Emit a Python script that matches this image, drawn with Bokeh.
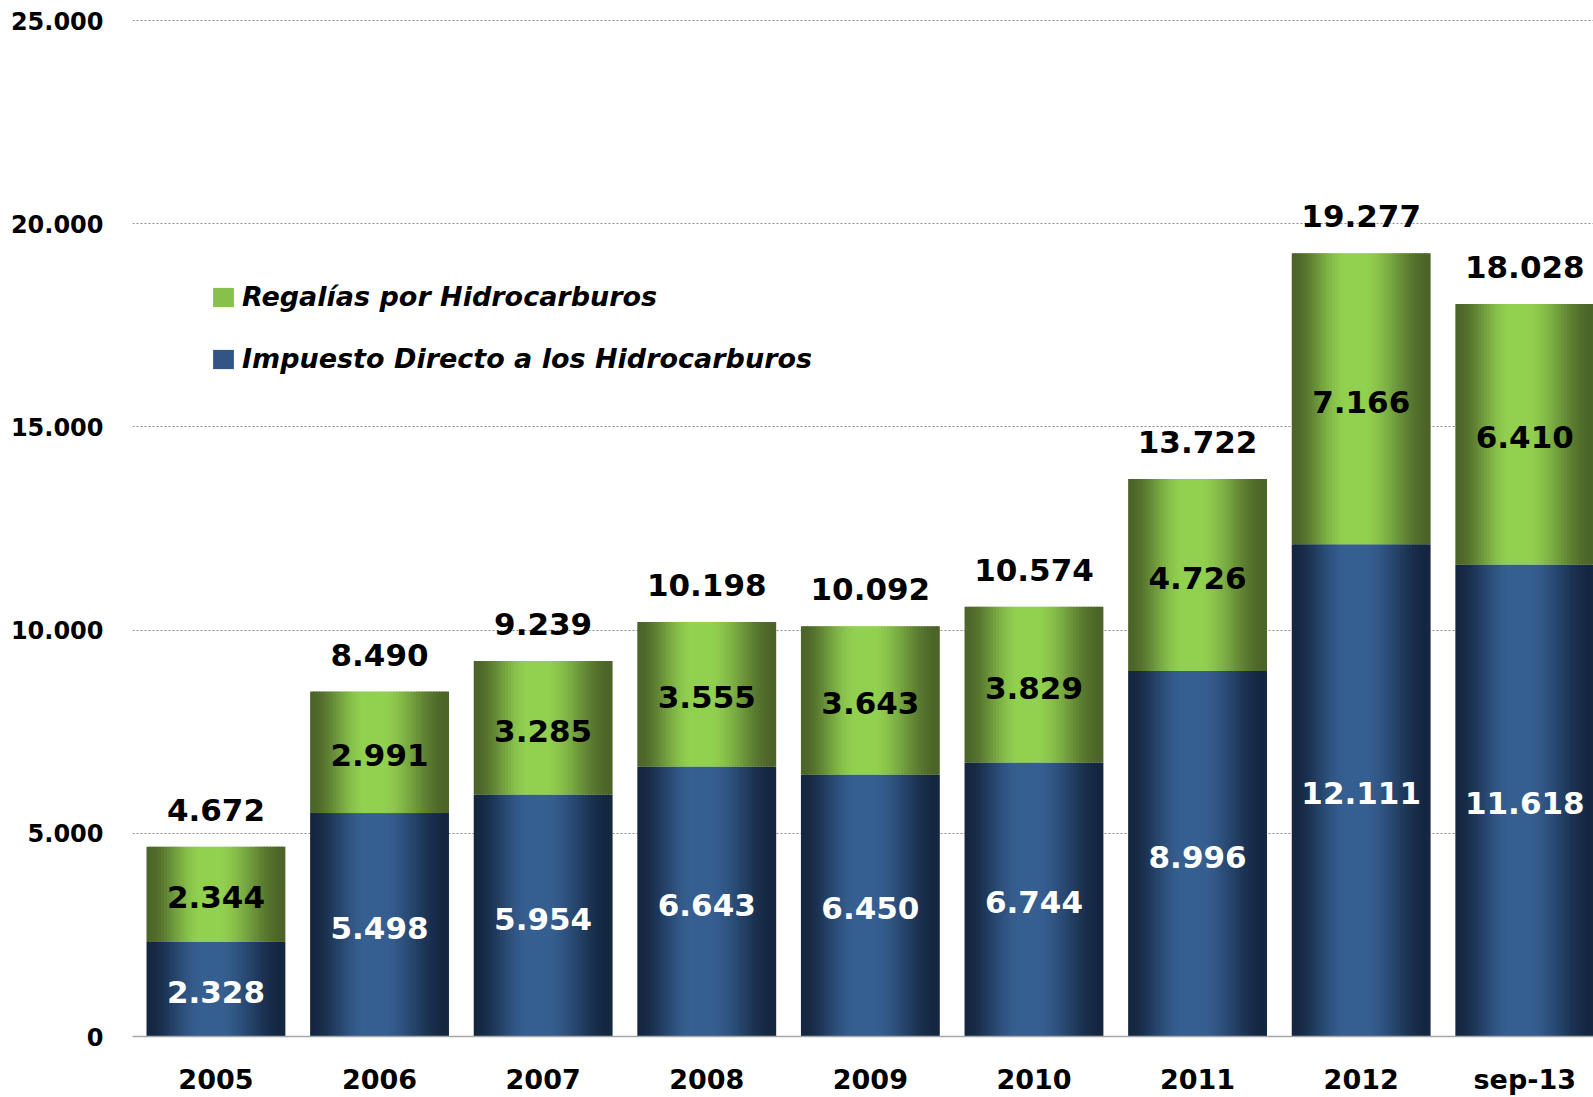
import numpy as np
from bokeh.plotting import figure
from bokeh.models import ColumnDataSource, Range1d, FixedTicker, Legend, LegendItem
from bokeh.core.properties import value
from bokeh.embed import file_html
from bokeh.resources import INLINE

# ---------------- data ----------------
categories = ["2005", "2006", "2007", "2008", "2009", "2010", "2011", "2012", "sep-13"]
impuesto_directo = [2328, 5498, 5954, 6643, 6450, 6744, 8996, 12111, 11618]
regalias = [2344, 2991, 3285, 3555, 3643, 3829, 4726, 7166, 6410]
totals = [4672, 8490, 9239, 10198, 10092, 10574, 13722, 19277, 18028]
y_ticks = [0, 5000, 10000, 15000, 20000, 25000]
y_tick_labels = ["0", "5.000", "10.000", "15.000", "20.000", "25.000"]
series_names = ["Regalías por Hidrocarburos", "Impuesto Directo a los Hidrocarburos"]

FONT = "DejaVu Sans"


def fmt(v):
    return f"{v:,}".replace(",", ".")


def mix(c1, c2, t):
    return "#%02x%02x%02x" % tuple(int(round(a + (b - a) * t)) for a, b in zip(c1, c2))


def profile(t):
    def ss(u):
        u = min(max(u, 0.0), 1.0)
        return u * u * (3 - 2 * u)
    if t < 0.40:
        return ss(t / 0.40)
    if t <= 0.52:
        return 1.0
    return ss((1 - t) / 0.48)


GREEN_DARK, GREEN_LIGHT = (76, 100, 40), (146, 208, 80)
BLUE_DARK, BLUE_LIGHT = (20, 38, 64), (54, 95, 145)

n = len(categories)
xs = np.arange(n)
bar_w = 0.84
K = 48
strip_w = bar_w / K

blue = dict(x=[], bottom=[], top=[], color=[])
green = dict(x=[], bottom=[], top=[], color=[])
for i in range(n):
    for k in range(K):
        t = (k + 0.5) / K
        x = xs[i] - bar_w / 2 + (k + 0.5) * strip_w
        b = profile(t)
        blue["x"].append(x); blue["bottom"].append(0); blue["top"].append(impuesto_directo[i])
        blue["color"].append(mix(BLUE_DARK, BLUE_LIGHT, b))
        green["x"].append(x); green["bottom"].append(impuesto_directo[i])
        green["top"].append(impuesto_directo[i] + regalias[i])
        green["color"].append(mix(GREEN_DARK, GREEN_LIGHT, b))

p = figure(width=1593, height=1097, output_backend="svg", toolbar_location=None,
           x_range=Range1d(-0.51, 8.42), y_range=Range1d(0, 25200),
           min_border_left=132, min_border_right=0, min_border_top=12, min_border_bottom=59)
p.outline_line_color = None
p.background_fill_color = "white"
p.border_fill_color = "white"

r_b = p.vbar(x="x", bottom="bottom", top="top", width=strip_w * 1.5, source=ColumnDataSource(blue),
             fill_color="color", line_color=None)
r_g = p.vbar(x="x", bottom="bottom", top="top", width=strip_w * 1.5, source=ColumnDataSource(green),
             fill_color="color", line_color=None)

# labels
lab = ColumnDataSource(dict(
    x=list(xs),
    blue_mid=[v / 2 for v in impuesto_directo],
    green_mid=[a + b / 2 for a, b in zip(impuesto_directo, regalias)],
    top=[a + b for a, b in zip(impuesto_directo, regalias)],
    blue_txt=[fmt(v) for v in impuesto_directo],
    green_txt=[fmt(v) for v in regalias],
    tot_txt=[fmt(v) for v in totals],
))
common = dict(text_align="center", text_baseline="middle", text_font=value(FONT),
              text_font_style="bold", text_font_size="31px")
p.text(x="x", y="blue_mid", text="blue_txt", source=lab, text_color="white", y_offset=3, **common)
p.text(x="x", y="green_mid", text="green_txt", source=lab, text_color="black", y_offset=3, **common)
p.text(x="x", y="top", text="tot_txt", source=lab, text_color="black", y_offset=-37, **common)

# legend (glyph swatch taken from a strip of the first bar)
k_leg = int(K * 0.3)
legend = Legend(items=[LegendItem(label=series_names[0], renderers=[r_g], index=k_leg),
                       LegendItem(label=series_names[1], renderers=[r_b], index=k_leg)],
                location=(78, 662), orientation="vertical",
                label_text_font=FONT, label_text_font_style="bold italic",
                label_text_font_size="27px", label_text_color="black",
                glyph_width=26, glyph_height=24, label_standoff=6, spacing=31,
                padding=0, margin=0, border_line_alpha=0, background_fill_alpha=0)
p.add_layout(legend, "center")

# axes
p.xaxis.ticker = FixedTicker(ticks=list(xs))
p.xaxis.major_label_overrides = {int(i): c for i, c in zip(xs, categories)}
p.xaxis.major_label_text_font = FONT
p.xaxis.major_label_text_font_style = "bold"
p.xaxis.major_label_text_font_size = "27px"
p.xaxis.major_label_text_color = "black"
p.xaxis.major_label_standoff = 27
p.xaxis.major_tick_out = 0
p.xaxis.major_tick_in = 0
p.xaxis.major_tick_line_color = None
p.xaxis.minor_tick_line_color = None
p.xaxis.axis_line_color = "#a6a6a6"
p.xaxis.axis_line_width = 1.5

p.yaxis.ticker = FixedTicker(ticks=y_ticks)
p.yaxis.major_label_overrides = {t: l for t, l in zip(y_ticks, y_tick_labels)}
p.yaxis.major_label_text_font = FONT
p.yaxis.major_label_text_font_style = "bold"
p.yaxis.major_label_text_font_size = "24px"
p.yaxis.major_label_text_color = "black"
p.yaxis.major_label_standoff = 29
p.yaxis.major_tick_out = 0
p.yaxis.major_tick_in = 0
p.yaxis.major_tick_line_color = None
p.yaxis.minor_tick_line_color = None
p.yaxis.axis_line_color = None

p.xgrid.grid_line_color = None
p.ygrid.grid_line_color = "#8c8c8c"
p.ygrid.grid_line_dash = "2 2"
p.ygrid.grid_line_width = 1

open("out.html", "w").write(file_html(p, INLINE))
